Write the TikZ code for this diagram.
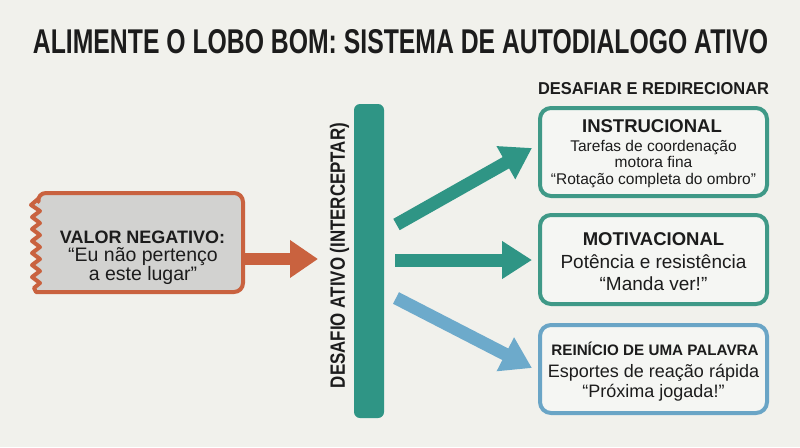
\documentclass[tikz,border=0pt]{standalone}
\usepackage{graphicx}
\usepackage{fontspec}
\setmainfont{Liberation Sans}
\usetikzlibrary{arrows.meta}
\definecolor{bg}{HTML}{F1F1EC}
\definecolor{orangeA}{HTML}{C9623F}
\definecolor{grayA}{HTML}{D2D2D0}
\definecolor{tealA}{HTML}{2F9585}
\definecolor{tealB}{HTML}{3F9987}
\definecolor{blueA}{HTML}{6DAACB}
\definecolor{blueB}{HTML}{6AA5C6}
\definecolor{boxfill}{HTML}{F5F6F3}
\definecolor{ink}{HTML}{1C1C1C}
\begin{document}
\begin{tikzpicture}[x=1pt,y=-1pt,
  every node/.style={text=ink},
  rbox/.style={draw, line width=4pt, rounded corners=11pt, fill=boxfill,
    minimum width=227pt, minimum height=88pt, inner sep=0pt},
  fat/.style={line width=13pt, -{Triangle[length=30pt,width=36pt]}},
  hd/.style={inner sep=0pt},
  tl/.style={inner sep=0pt, anchor=base}
]
\useasboundingbox[fill=bg] (0,0) rectangle (800,447);

% title
\node[hd] (title) at (400.5,42) {\resizebox{735pt}{24pt}{\bfseries ALIMENTE O LOBO BOM: SISTEMA DE AUTODIALOGO ATIVO}};

% left box
\draw[draw=orangeA, line width=4pt, fill=grayA, line join=round]
  (36,292) [rounded corners=9pt] -- (243,292) -- (243,193) -- (37,193) [sharp corners]
  -- (38,199) -- (31,205) -- (40,211) -- (32,217) -- (40,223) -- (32,229) -- (40,235)
  -- (32,241) -- (40,247) -- (32,253) -- (40,259) -- (32,265) -- (40,271) -- (32,277)
  -- (40,283) -- (34,288) -- cycle;
\node[tl, font=\fontsize{18}{18}\selectfont\bfseries] (l1) at (142.5,243) {VALOR NEGATIVO:};
\node[tl, font=\fontsize{19.5}{20}\selectfont] (l2) at (143,261.5) {“Eu não pertenço};
\node[tl, font=\fontsize{19.5}{20}\selectfont] (l3) at (143,280) {a este lugar”};
\coordinate (lbox) at (243,259);
\coordinate (otip) at (318,259);
\draw[line width=12pt, draw=orangeA, -{Triangle[length=28pt,width=36pt]}] (lbox) -- (otip);

% bar
\node[fill=tealA, rounded corners=6pt, minimum width=30pt, minimum height=314pt, inner sep=0pt] (bar) at (369,261) {};
\node[hd, rotate=90] (vlab) at (339.5,255.5) {\resizebox{265pt}{15pt}{\bfseries DESAFIO ATIVO (INTERCEPTAR)}};

% right heading
\node[hd] (rhead) at (653.5,89) {\resizebox{231pt}{12pt}{\bfseries DESAFIAR E REDIRECIONAR}};

% right boxes
\node[rbox, draw=tealB] (b1) at (653.5,152) {};
\node[tl, font=\fontsize{18.5}{20}\selectfont\bfseries] (b1a) at (652,132) {INSTRUCIONAL};
\node[tl, font=\fontsize{15.5}{17}\selectfont] (b1b) at (653.5,151) {Tarefas de coordenação};
\node[tl, font=\fontsize{15.5}{17}\selectfont] (b1c) at (653.5,167) {motora fina};
\node[tl, font=\fontsize{15.5}{17}\selectfont] (b1d) at (653.5,184) {“Rotação completa do ombro”};

\node[rbox, draw=tealB, minimum height=89pt] (b2) at (653.5,259.5) {};
\node[tl, font=\fontsize{18.5}{20}\selectfont\bfseries] (b2a) at (653.5,245) {MOTIVACIONAL};
\node[tl, font=\fontsize{19}{20}\selectfont] (b2b) at (653.5,268) {Potência e resistência};
\node[tl, font=\fontsize{19}{20}\selectfont] (b2c) at (653.5,290) {“Manda ver!”};

\node[rbox, draw=blueB] (b3) at (653.5,369) {};
\node[tl, font=\fontsize{15.2}{16}\selectfont\bfseries] (b3a) at (655,355) {REINÍCIO DE UMA PALAVRA};
\node[tl, font=\fontsize{18}{20}\selectfont] (b3b) at (653.5,377) {Esportes de reação rápida};
\node[tl, font=\fontsize{18}{20}\selectfont] (b3c) at (653.5,397) {“Próxima jogada!”};

% arrows
\coordinate (s1) at (396.5,224.5);
\coordinate (t1) at (532,148);
\coordinate (s2) at (395,260);
\coordinate (t2) at (532,260);
\coordinate (s3) at (396,298);
\coordinate (t3) at (532,368);
\draw[fat, draw=tealA, fill=tealA] (s1) -- (t1);
\draw[fat, draw=tealA, fill=tealA] (s2) -- (t2);
\draw[fat, draw=blueA, fill=blueA] (s3) -- (t3);
\end{tikzpicture}
\end{document}
